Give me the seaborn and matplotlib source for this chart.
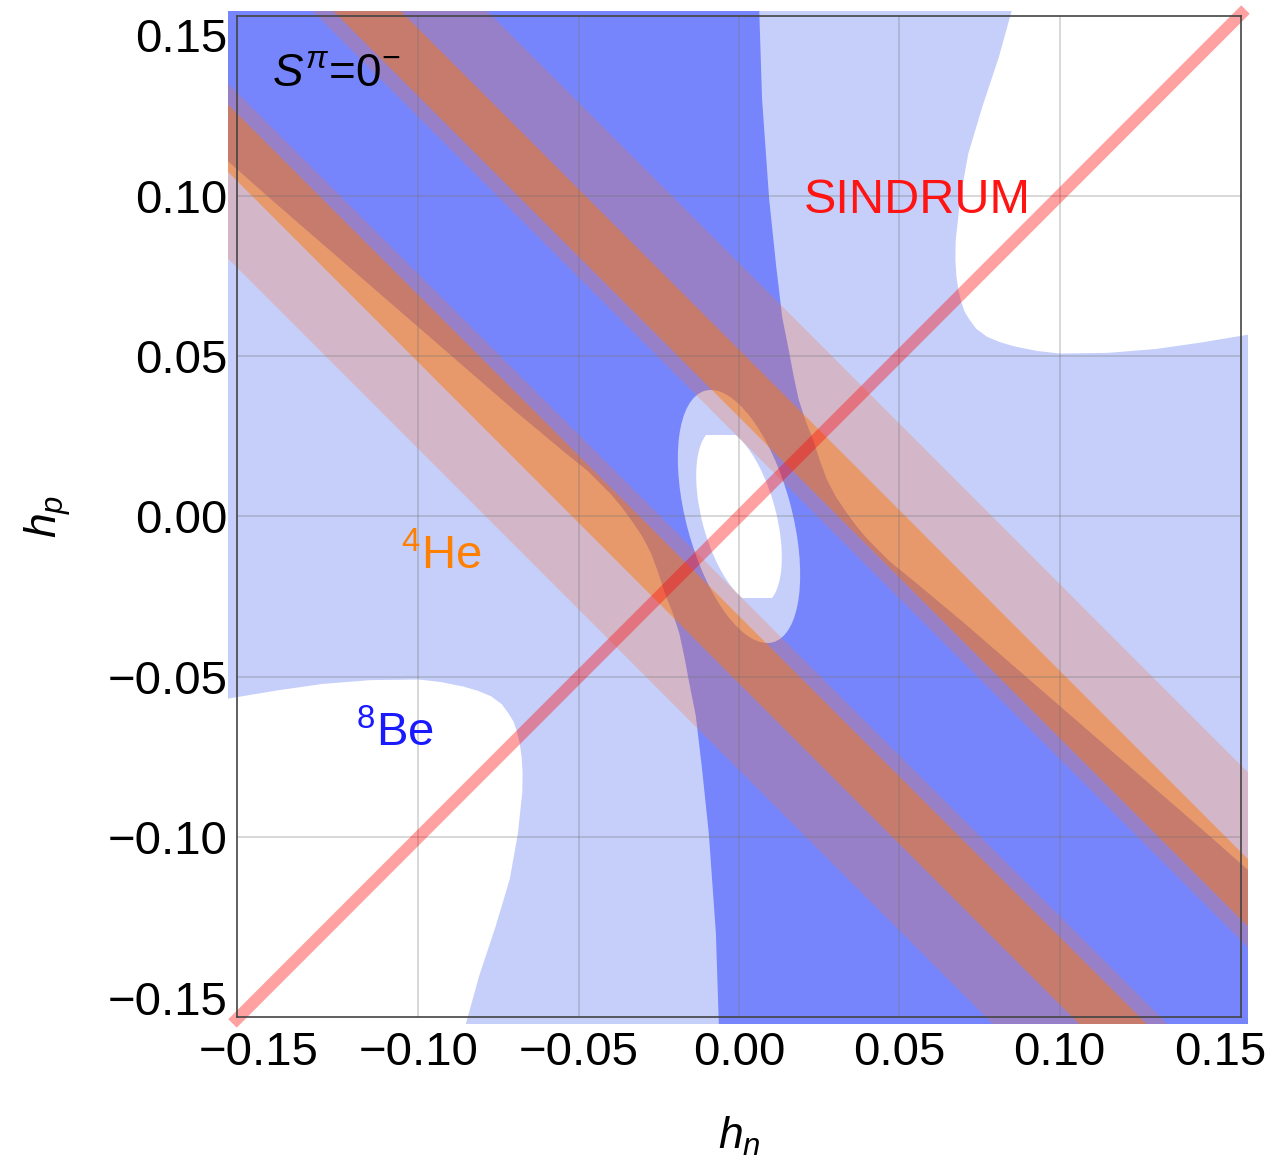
import numpy as np
import matplotlib
matplotlib.use("Agg")
import matplotlib.pyplot as plt
import seaborn as sns
from matplotlib.patches import Rectangle, Ellipse
from matplotlib.ticker import MultipleLocator, FuncFormatter

sns.set_theme(style="white")
plt.rcParams['font.family'] = ['Liberation Sans', 'DejaVu Sans']
plt.rcParams['mathtext.fontset'] = 'custom'
plt.rcParams['mathtext.rm'] = 'Liberation Sans'
plt.rcParams['mathtext.it'] = 'Liberation Sans:italic'
plt.rcParams['mathtext.bf'] = 'Liberation Sans:bold'
plt.rcParams['text.color'] = 'black'
plt.rcParams['axes.labelcolor'] = 'black'
plt.rcParams['xtick.color'] = 'black'
plt.rcParams['ytick.color'] = 'black'

# ---------------- data ----------------
frame_hn = (-0.1566, 0.1566)
frame_hp = (-0.156, 0.156)
region_hn = (-0.1595, 0.1588)
region_hp = (-0.1583, 0.1577)

# 4He bands in u = h_n + h_p  (symmetric: +/-)
he4_1sigma = (0.031, 0.052)
he4_2sigma = (0.0245, 0.079)

# 8Be 1-sigma boundary, upper-right branch (the lower-left one is its mirror image)
be1_edge_hn = [0.0060, 0.0063, 0.0072, 0.0094, 0.0116, 0.0135, 0.0155, 0.0170, 0.0186, 0.0207,
               0.0231, 0.0252, 0.0274, 0.0303, 0.0337, 0.0368, 0.0400, 0.0470, 0.0550, 0.0700,
               0.0850, 0.1000, 0.1150, 0.1300, 0.1450, 0.1620]
be1_edge_hp = [0.1620, 0.1580, 0.1300, 0.0990, 0.0780, 0.0620, 0.0520, 0.0440, 0.0365, 0.0300,
               0.0240, 0.0175, 0.0115, 0.0060, 0.0010, -0.0032, -0.0070, -0.0140, -0.0205, -0.0330,
               -0.0460, -0.0590, -0.0720, -0.0850, -0.0980, -0.1130]

# 8Be 2-sigma outer boundary (white corner), upper-right branch
be2_edge_hn = [0.0860, 0.0850, 0.0810, 0.0760, 0.0715, 0.0690, 0.0676, 0.0675, 0.0678, 0.0684,
               0.0693, 0.0703, 0.0718, 0.0740, 0.0774, 0.0815, 0.0860, 0.0930, 0.1000, 0.1150,
               0.1300, 0.1440, 0.1620]
be2_edge_hp = [0.1620, 0.1574, 0.1430, 0.1280, 0.1130, 0.0990, 0.0860, 0.0800, 0.0750, 0.0708,
               0.0670, 0.0640, 0.0615, 0.0585, 0.0560, 0.0543, 0.0530, 0.0516, 0.0508, 0.0510,
               0.0522, 0.0542, 0.0572]

# central ellipses of 8Be
be_core_center = (0.0, 0.0)
be_core_axes = (0.0812, 0.0329)      # full major / minor axis
be_core_angle = 105.1                # degrees
be_inner_scale = 0.70
be_inner_cut = 0.0255

sindrum_hn = [-0.158, 0.158]
sindrum_hp = [-0.158, 0.158]

grid_vals = [-0.10, -0.05, 0.0, 0.05, 0.10]

# ---------------- colours ----------------
c_light = '#C5CFFA'
c_dark = '#7685FB'
c_he2 = (1.0, 0.45, 0.20)
c_he1 = (1.0, 0.467, 0.0)

fig = plt.figure(figsize=(12.74, 11.62), dpi=100)
ax = fig.add_axes([237/1274, 1-1017/1162, (1241-237)/1274, (1017-16)/1162])
ax.set_xlim(*frame_hn)
ax.set_ylim(*frame_hp)

clip_rect = Rectangle((region_hn[0], region_hp[0]), region_hn[1]-region_hn[0],
                      region_hp[1]-region_hp[0], transform=ax.transData)

def clipped(arts):
    for a in arts:
        a.set_clip_path(clip_rect)
    return arts

far = 0.25
# light-blue background (8Be 2 sigma)
clipped(ax.fill([region_hn[0], region_hn[1], region_hn[1], region_hn[0]],
                [region_hp[0], region_hp[0], region_hp[1], region_hp[1]],
                color=c_light, lw=0, zorder=1.0))

# white corners (outside 8Be 2 sigma)
b2x = np.array(be2_edge_hn); b2y = np.array(be2_edge_hp)
for s in (1, -1):
    xs = np.concatenate([s*b2x, [s*far]])
    ys = np.concatenate([s*b2y, [s*far]])
    clipped(ax.fill(xs, ys, color='white', lw=0, zorder=1.1))

# dark blue (8Be 1 sigma): between the two branches
b1x = np.array(be1_edge_hn); b1y = np.array(be1_edge_hp)
xs = np.concatenate([b1x, [far], -b1x, [-far]])
ys = np.concatenate([b1y, [-far], -b1y, [far]])
clipped(ax.fill(xs, ys, color=c_dark, lw=0, zorder=1.2))

# central ellipses
e_out = Ellipse(be_core_center, be_core_axes[0], be_core_axes[1], angle=be_core_angle,
                facecolor=c_light, lw=0, zorder=1.3)
ax.add_patch(e_out)
e_in = Ellipse(be_core_center, be_core_axes[0]*be_inner_scale, be_core_axes[1]*be_inner_scale,
               angle=be_core_angle, facecolor='white', lw=0, zorder=1.4)
ax.add_patch(e_in)
e_in.set_clip_path(Rectangle((-0.05, -be_inner_cut), 0.1, 2*be_inner_cut, transform=ax.transData))

# 4He bands
def band(u1, u2, color, alpha, z):
    x0, x1 = -far, far
    for s in (1, -1):
        a, b = s*u1, s*u2
        clipped(ax.fill([x0, x1, x1, x0], [a-x0, a-x1, b-x1, b-x0],
                        color=color, alpha=alpha, lw=0, zorder=z))

band(*he4_2sigma, c_he2, 0.25, 1.5)
band(*he4_1sigma, c_he1, 0.46, 1.6)

# grid lines
for g in grid_vals:
    ax.axvline(g, color='0.45', alpha=0.28, lw=1.4, zorder=2.2)
    ax.axhline(g, color='0.45', alpha=0.28, lw=1.4, zorder=2.2)

# SINDRUM line
sns.lineplot(x=sindrum_hn, y=sindrum_hp, ax=ax, color='#FF0000', alpha=0.37, linewidth=8.6,
             zorder=2.6)
ln = ax.lines[-1]
ln.set_clip_on(False)
ln.set_solid_capstyle('butt')

# texts
ax.text(-0.1456, 0.1343, r'$S^{\pi}$=0$^{-}$', fontsize=33, color='black', zorder=3)
ax.text(0.0203, 0.0947, 'SINDRUM', fontsize=35, color='#FF1414', zorder=3)
ax.text(-0.1054, -0.0165, r'$^{4}$He', fontsize=34, color='#FF8000', zorder=3)
ax.text(-0.1195, -0.0716, r'$^{8}$Be', fontsize=34, color='#1A1AFF', zorder=3)

# axes styling
ax.xaxis.set_major_locator(MultipleLocator(0.05))
ax.yaxis.set_major_locator(MultipleLocator(0.05))
ax.xaxis.set_minor_locator(MultipleLocator(0.01))
ax.yaxis.set_minor_locator(MultipleLocator(0.01))
fmt = FuncFormatter(lambda v, p: "0.00" if abs(v) < 1e-9 else f"{v:.2f}".replace('-', '\u2212'))
ax.xaxis.set_major_formatter(fmt)
ax.yaxis.set_major_formatter(fmt)
ax.tick_params(which='both', direction='in', top=True, right=True, color='#333333',
               labelcolor='black', width=1.1)
ax.tick_params(which='major', length=11.5, labelsize=34, pad=7)
ax.tick_params(which='minor', length=6)
ax.tick_params(axis='x', which='major', pad=10)
for sp in ax.spines.values():
    sp.set_color('#444444')
    sp.set_linewidth(1.2)
    sp.set_zorder(4)

ax.set_xlabel(r'$h_n$', fontsize=32, color='black')
ax.set_ylabel(r'$h_p$', fontsize=32, color='black')
ax.xaxis.set_label_coords(0.5, -0.098)
ax.yaxis.set_label_coords(-0.163, 0.5)

fig.savefig('out.png', dpi=100, facecolor='white')
